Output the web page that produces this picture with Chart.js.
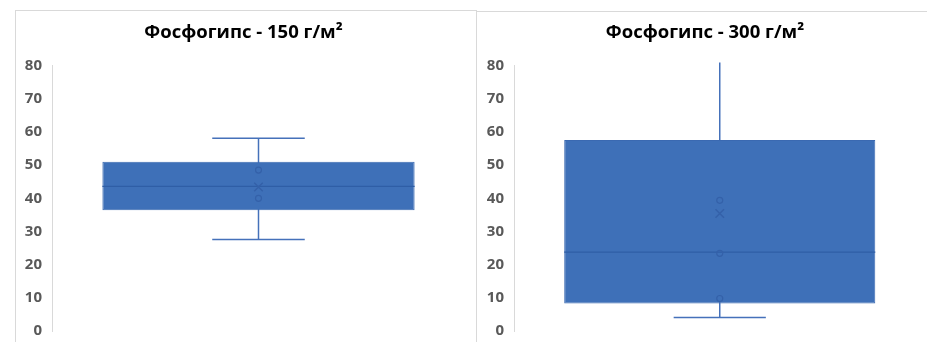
<!DOCTYPE html>
<html>
<head>
<meta charset="utf-8">
<script src="https://cdn.jsdelivr.net/npm/chart.js@4/dist/chart.umd.min.js"></script>
<style>
  html, body { margin: 0; padding: 0; background: #ffffff; overflow: hidden; }
  body { position: relative; width: 927px; height: 342px; }
  .frame { position: absolute; border: 1px solid #d9d9d9; box-sizing: border-box; }
  .holder { position: absolute; top: 0; height: 350px; }
  canvas { display: block; }
</style>
</head>
<body>
<div class="frame" style="left:15px; top:10px; width:462px; height:340px;"></div>
<div class="frame" style="left:476px; top:11px; width:460px; height:340px; border-right:none;"></div>
<div class="holder" style="left:10px; width:466px;"><canvas id="boxLeft"></canvas></div>
<div class="holder" style="left:477px; width:456px;"><canvas id="boxRight"></canvas></div>
<script>
// Box-and-whisker summaries for the two phosphogypsum application rates
const panelTitles = ['Фосфогипс - 150 г/м²', 'Фосфогипс - 300 г/м²'];
const categories = ['150', '300'];
const yTicks = [0, 10, 20, 30, 40, 50, 60, 70, 80];
const minimum = [27.6, 4.1];
const quartile1 = [36.4, 8.3];
const median = [43.6, 23.8];
const quartile3 = [51.0, 57.6];
const maximum = [58.1, 83.0];
const mean = [43.4, 35.4];
const innerPoints = [[48.5, 40.0], [39.4, 23.4, 9.8]];

const BOX_FILL = '#3e70b8';
const BOX_EDGE = '#3a69b1';
const LINE = '#4571ba';
const MEDIAN_LINE = '#2f5ea6';
const POINT_LINE = '#3461a9';

// Whiskers sit behind the box; the median line goes on top of it
const whiskerPlugin = {
  id: 'whiskers',
  beforeDatasetsDraw(chart, args, opts) {
    const i = opts.panel;
    const x = chart.scales.x, y = chart.scales.y, area = chart.chartArea;
    const cx = x.getPixelForValue(0);
    const capHalf = x.width * 0.112;
    const ctx = chart.ctx;
    ctx.save();
    ctx.beginPath();
    ctx.rect(area.left, area.top - 3, area.right - area.left, area.bottom - area.top + 6);
    ctx.clip();
    ctx.strokeStyle = LINE;
    ctx.lineWidth = 1.5;
    const yMin = y.getPixelForValue(minimum[i]);
    const yMax = y.getPixelForValue(maximum[i]);
    ctx.beginPath();
    ctx.moveTo(cx, yMin); ctx.lineTo(cx, yMax);
    ctx.moveTo(cx - capHalf, yMin); ctx.lineTo(cx + capHalf, yMin);
    ctx.moveTo(cx - capHalf, yMax); ctx.lineTo(cx + capHalf, yMax);
    ctx.stroke();
    ctx.restore();
  },
  afterDatasetDraw(chart, args, opts) {
    if (args.index !== 0) return;
    const i = opts.panel;
    const meta = chart.getDatasetMeta(0);
    const bar = meta.data[0];
    const y = chart.scales.y;
    const ym = y.getPixelForValue(median[i]);
    const ctx = chart.ctx;
    ctx.save();
    ctx.strokeStyle = MEDIAN_LINE;
    ctx.lineWidth = 1.3;
    ctx.beginPath();
    ctx.moveTo(bar.x - bar.width / 2, ym);
    ctx.lineTo(bar.x + bar.width / 2, ym);
    ctx.stroke();
    ctx.restore();
  }
};

function makePanel(canvasId, i, axisWidth, padLeft, padRight) {
  new Chart(document.getElementById(canvasId), {
    type: 'bar',
    data: {
      labels: [categories[i]],
      datasets: [
        {
          type: 'bar',
          data: [[quartile1[i], quartile3[i]]],
          backgroundColor: BOX_FILL,
          borderColor: BOX_EDGE,
          borderWidth: 1,
          borderSkipped: false,
          barPercentage: 0.756,
          categoryPercentage: 1,
          order: 2
        },
        {
          type: 'line',
          data: innerPoints[i].map(v => ({ x: categories[i], y: v })),
          showLine: false,
          pointStyle: 'circle',
          pointRadius: 3,
          pointBorderWidth: 1.2,
          pointBorderColor: POINT_LINE,
          pointBackgroundColor: 'rgba(0,0,0,0)',
          order: 1
        },
        {
          type: 'line',
          data: [{ x: categories[i], y: mean[i] }],
          showLine: false,
          pointStyle: 'crossRot',
          pointRadius: 6,
          pointBorderWidth: 1.5,
          pointBorderColor: POINT_LINE,
          order: 0
        }
      ]
    },
    options: {
      responsive: true,
      maintainAspectRatio: false,
      animation: false,
      layout: { padding: { left: padLeft, right: padRight, top: 0, bottom: 5 } },
      plugins: {
        legend: { display: false },
        tooltip: { enabled: false },
        title: {
          display: true,
          text: panelTitles[i],
          color: '#000000',
          font: { family: 'Open Sans', weight: 'bold', size: 18.5, lineHeight: 1.2 },
          padding: { top: 21.9, bottom: 21.5 }
        },
        whiskers: { panel: i }
      },
      scales: {
        x: { display: false, offset: true },
        y: {
          min: 0,
          max: 80,
          afterBuildTicks(scale) { scale.ticks = yTicks.map(v => ({ value: v })); },
          afterFit(scale) { scale.width = axisWidth; },
          grid: { display: false, drawTicks: false },
          border: { display: true, color: '#d9d9d9', width: 1 },
          ticks: {
            padding: 10,
            color: '#595959',
            font: { family: 'Open Sans', weight: 'bold', size: 15 }
          }
        }
      }
    },
    plugins: [whiskerPlugin]
  });
}

makePanel('boxLeft', 0, 30, 12, 11);
makePanel('boxRight', 1, 32.6, 4.4, 4.4);
</script>
</body>
</html>
